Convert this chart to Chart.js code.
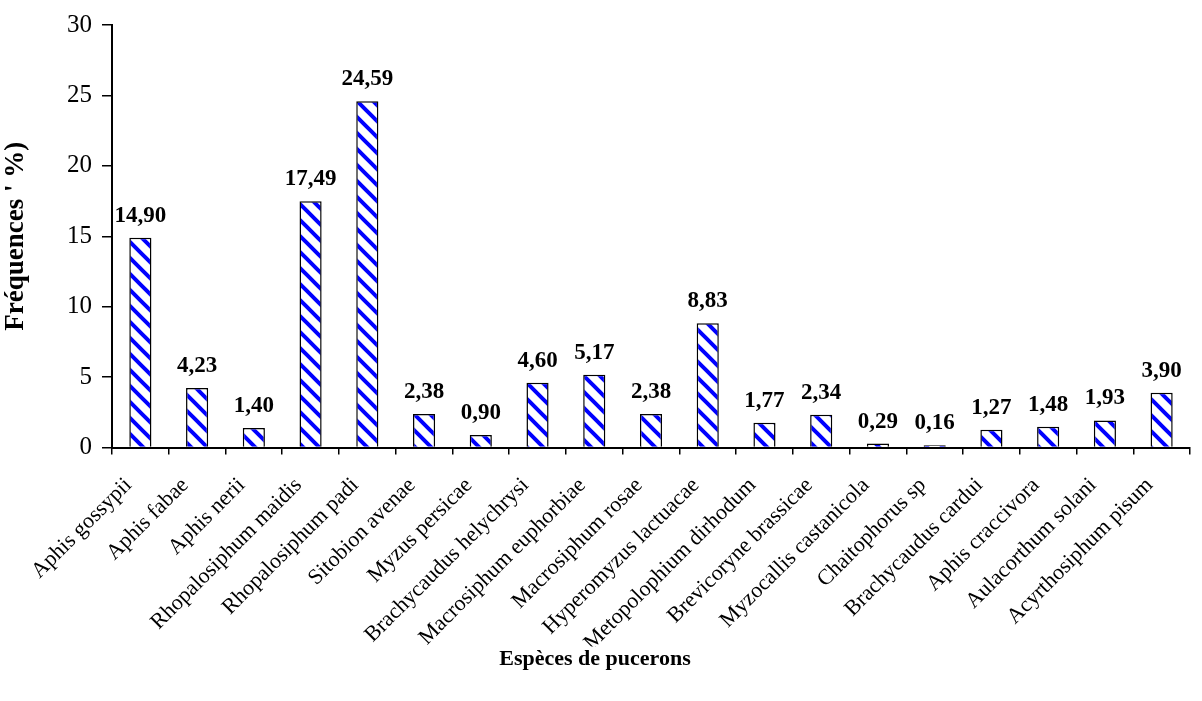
<!DOCTYPE html>
<html>
<head>
<meta charset="utf-8">
<script src="https://cdn.jsdelivr.net/npm/chart.js@4.4.1/dist/chart.umd.min.js"></script>
<style>
  html, body { margin: 0; padding: 0; background: #fff; }
  #wrap { width: 1202px; height: 701px; }
</style>
</head>
<body>
<div id="wrap"><canvas id="c" width="1202" height="701"></canvas></div>
<script>
// Aphid species and their observed frequencies (%)
const species = [
  'Aphis gossypii', 'Aphis fabae', 'Aphis nerii', 'Rhopalosiphum maidis',
  'Rhopalosiphum padi', 'Sitobion avenae', 'Myzus persicae',
  'Brachycaudus helychrysi', 'Macrosiphum euphorbiae', 'Macrosiphum rosae',
  'Hyperomyzus lactuacae', 'Metopolophium dirhodum', 'Brevicoryne brassicae',
  'Myzocallis castanicola', 'Chaitophorus sp', 'Brachycaudus cardui',
  'Aphis craccivora', 'Aulacorthum solani', 'Acyrthosiphum pisum'
];
const frequencies = [
  14.90, 4.23, 1.40, 17.49, 24.59, 2.38, 0.90, 4.60, 5.17, 2.38,
  8.83, 1.77, 2.34, 0.29, 0.16, 1.27, 1.48, 1.93, 3.90
];
const yTicks = [0, 5, 10, 15, 20, 25, 30];

const SERIF = '"Liberation Serif", "Times New Roman", serif';

// Blue diagonal hatching used to fill the bars
function makeHatch() {
  const s = 16;
  const c = document.createElement('canvas');
  c.width = s; c.height = s;
  const g = c.getContext('2d');
  g.fillStyle = '#ffffff';
  g.fillRect(0, 0, s, s);
  g.strokeStyle = '#0000ff';
  g.lineWidth = 4;
  g.lineCap = 'square';
  for (const off of [-s, 0, s]) {
    g.beginPath();
    g.moveTo(off - 2, -2);
    g.lineTo(off + s + 2, s + 2);
    g.stroke();
  }
  return g.createPattern(c, 'repeat');
}

const fmt = v => v.toFixed(2).replace('.', ',');

// Writes each bar's value above it
const valueLabels = {
  id: 'valueLabels',
  afterDatasetsDraw(chart) {
    const ctx = chart.ctx;
    const meta = chart.getDatasetMeta(0);
    ctx.save();
    ctx.font = 'bold 23px ' + SERIF;
    ctx.fillStyle = '#000';
    ctx.textAlign = 'center';
    ctx.textBaseline = 'alphabetic';
    meta.data.forEach((bar, i) => {
      ctx.fillText(fmt(frequencies[i]), bar.x, bar.y - 16);
    });
    ctx.restore();
  }
};

new Chart(document.getElementById('c'), {
  type: 'bar',
  data: {
    labels: species,
    datasets: [{
      data: frequencies,
      backgroundColor: makeHatch(),
      borderColor: '#000',
      borderWidth: 1.5,
      barPercentage: 0.39,
      categoryPercentage: 1.0
    }]
  },
  options: {
    responsive: false,
    animation: false,
    events: [],
    layout: { padding: { top: 22, right: 12, left: 0, bottom: 28 } },
    plugins: {
      legend: { display: false },
      tooltip: { enabled: false },
      title: {
        display: true,
        position: 'bottom',
        text: 'Espèces de pucerons',
        color: '#000',
        font: { family: SERIF, size: 22, weight: 'bold' },
        padding: { top: 0, bottom: 0 }
      }
    },
    scales: {
      x: {
        afterFit(scale) { scale.height = 199; },
        grid: {
          display: true,
          drawOnChartArea: false,
          drawTicks: true,
          tickLength: 7,
          color: '#000',
          lineWidth: 1.5,
          offset: true
        },
        border: { display: true, color: '#000', width: 2 },
        ticks: {
          color: '#000',
          font: { family: SERIF, size: 22 },
          minRotation: 45,
          maxRotation: 45,
          autoSkip: false,
          padding: 18,
          labelOffset: -12
        }
      },
      y: {
        min: 0,
        max: 30,
        afterBuildTicks(scale) {
          scale.ticks = yTicks.map(v => ({ value: v }));
        },
        afterFit(scale) { scale.width = 112; },
        grid: {
          display: true,
          drawOnChartArea: false,
          drawTicks: true,
          tickLength: 10,
          color: '#000',
          lineWidth: 1.5
        },
        border: { display: true, color: '#000', width: 2 },
        ticks: {
          color: '#000',
          font: { family: SERIF, size: 25 },
          padding: 10
        },
        title: {
          display: true,
          text: "Fréquences ' %)",
          color: '#000',
          font: { family: SERIF, size: 27, weight: 'bold' },
          padding: { top: 0, bottom: 0 }
        }
      }
    }
  },
  plugins: [valueLabels]
});
</script>
</body>
</html>
